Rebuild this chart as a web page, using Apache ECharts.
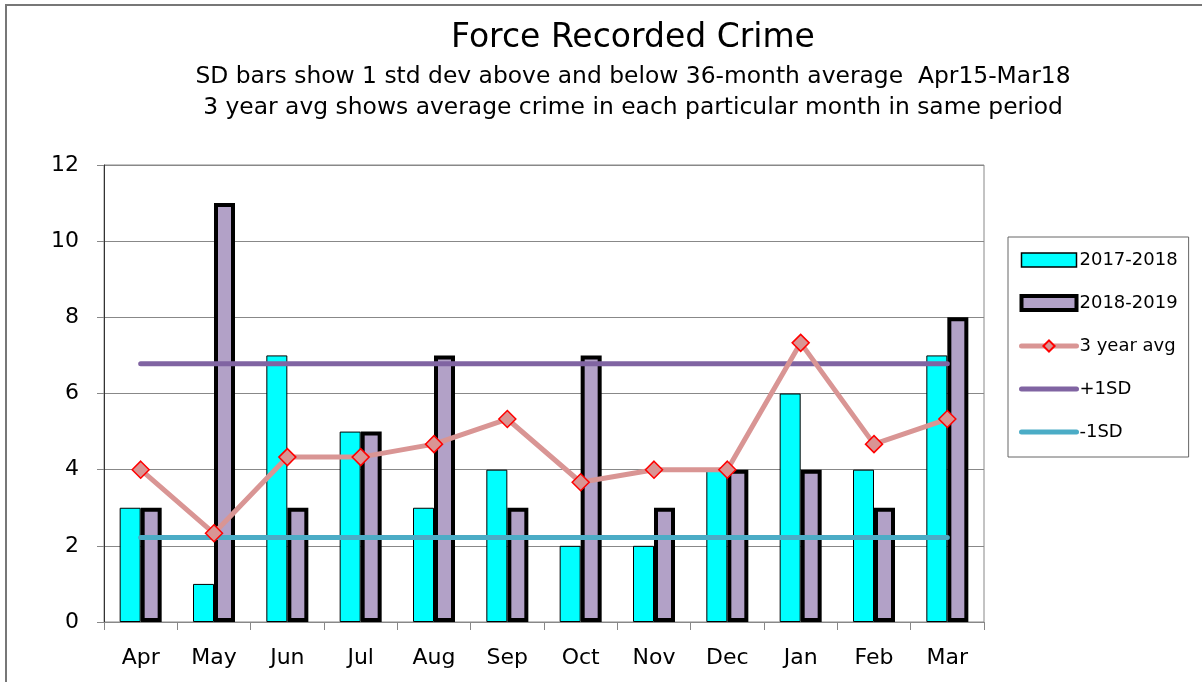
<!DOCTYPE html>
<html>
<head>
<meta charset="utf-8">
<script src="https://cdn.jsdelivr.net/npm/echarts@6/dist/echarts.min.js"></script>
<style>
html,body{margin:0;padding:0;background:#fff;}
#chart{width:1202px;height:682px;}
</style>
</head>
<body>
<div id="chart"></div>
<script>
const categories = ['Apr','May','Jun','Jul','Aug','Sep','Oct','Nov','Dec','Jan','Feb','Mar'];
const s1718 = [3, 1, 7, 5, 3, 4, 2, 2, 4, 6, 4, 7];
const s1819 = [3, 11, 3, 5, 7, 3, 7, 3, 4, 4, 3, 8];
const avg3 = [4, 2.33, 4.33, 4.33, 4.67, 5.33, 3.67, 4, 4, 7.33, 4.67, 5.33];
const plus1SD = [6.78, 6.78, 6.78, 6.78, 6.78, 6.78, 6.78, 6.78, 6.78, 6.78, 6.78, 6.78];
const minus1SD = [2.22, 2.22, 2.22, 2.22, 2.22, 2.22, 2.22, 2.22, 2.22, 2.22, 2.22, 2.22];
const yTicks = {min: 0, max: 12, interval: 2};

const FONT = 'DejaVu Sans';
const chart = echarts.init(document.getElementById('chart'), null, {renderer: 'canvas'});
chart.setOption({
  backgroundColor: '#fff',
  animation: false,
  textStyle: {fontFamily: FONT, color: '#000'},
  graphic: [{
    type: 'rect', shape: {x: 6, y: 5, width: 1210, height: 700},
    style: {fill: 'none', stroke: '#777', lineWidth: 2}, silent: true, z: -10
  }],
  title: [
    {text: 'Force Recorded Crime', left: 628, textAlign: 'center', top: 17,
     textStyle: {fontFamily: FONT, fontSize: 33, fontWeight: 'normal', color: '#000'}},
    {text: 'SD bars show 1 std dev above and below 36-month average  Apr15-Mar18', left: 628, textAlign: 'center', top: 60,
     textStyle: {fontFamily: FONT, fontSize: 23.4, fontWeight: 'normal', color: '#000'}},
    {text: '3 year avg shows average crime in each particular month in same period', left: 628, textAlign: 'center', top: 91,
     textStyle: {fontFamily: FONT, fontSize: 23.4, fontWeight: 'normal', color: '#000'}}
  ],
  legend: {
    left: 1008, top: 237, orient: 'vertical',
    borderColor: '#666', borderWidth: 1,
    padding: [14, 11, 16, 11],
    itemWidth: 55, itemHeight: 14, itemGap: 25,
    textStyle: {fontFamily: FONT, fontSize: 18, color: '#000', padding: [0, 0, 0, -2]},
    data: [
      {name: '2017-2018', icon: 'rect', itemStyle: {borderWidth: 1.5, borderColor: '#000'}},
      {name: '2018-2019', icon: 'rect', itemStyle: {borderWidth: 4, borderColor: '#000'}},
      {name: '3 year avg', lineStyle: {width: 5, cap: 'round'}},
      {name: '+1SD', itemStyle: {opacity: 0}, lineStyle: {width: 5, cap: 'round'}},
      {name: '-1SD', itemStyle: {opacity: 0}, lineStyle: {width: 5, cap: 'round'}}
    ]
  },
  grid: {left: 104, right: 218, top: 165, bottom: 60, show: true, borderColor: '#888', borderWidth: 1},
  xAxis: {
    type: 'category', data: categories,
    axisLine: {lineStyle: {color: '#888', width: 1}},
    axisTick: {show: true, alignWithLabel: false, length: 8, lineStyle: {color: '#888'}},
    axisLabel: {fontFamily: FONT, fontSize: 22, color: '#000', margin: 25}
  },
  yAxis: {
    type: 'value', min: yTicks.min, max: yTicks.max, interval: yTicks.interval,
    axisLine: {show: true, lineStyle: {color: '#333', width: 1}},
    axisTick: {show: true, length: 7, lineStyle: {color: '#888'}},
    splitLine: {lineStyle: {color: '#888', width: 1}},
    axisLabel: {fontFamily: FONT, fontSize: 22, color: '#000', margin: 25}
  },
  series: [
    {name: '2017-2018', type: 'bar', data: s1718, barWidth: 21, barGap: '0%',
     itemStyle: {color: '#00FFFF', borderColor: '#000', borderWidth: 1}, z: 2},
    {name: '2018-2019', type: 'bar', data: s1819, barWidth: 21,
     itemStyle: {color: '#B2A1C7', borderColor: '#000', borderWidth: 4}, z: 2},
    {name: '+1SD', type: 'line', data: plus1SD, symbol: 'none',
     lineStyle: {color: '#8064A2', width: 5, cap: 'round'}, itemStyle: {color: '#8064A2'}, z: 3},
    {name: '-1SD', type: 'line', data: minus1SD, symbol: 'none',
     lineStyle: {color: '#4BACC6', width: 5, cap: 'round'}, itemStyle: {color: '#4BACC6'}, z: 3},
    {name: '3 year avg', type: 'line', data: avg3, symbol: 'diamond', symbolSize: 17,
     lineStyle: {color: '#D99594', width: 5},
     itemStyle: {color: '#D99594', borderColor: '#FF0000', borderWidth: 1.5}, z: 4}
  ]
});
</script>
</body>
</html>
